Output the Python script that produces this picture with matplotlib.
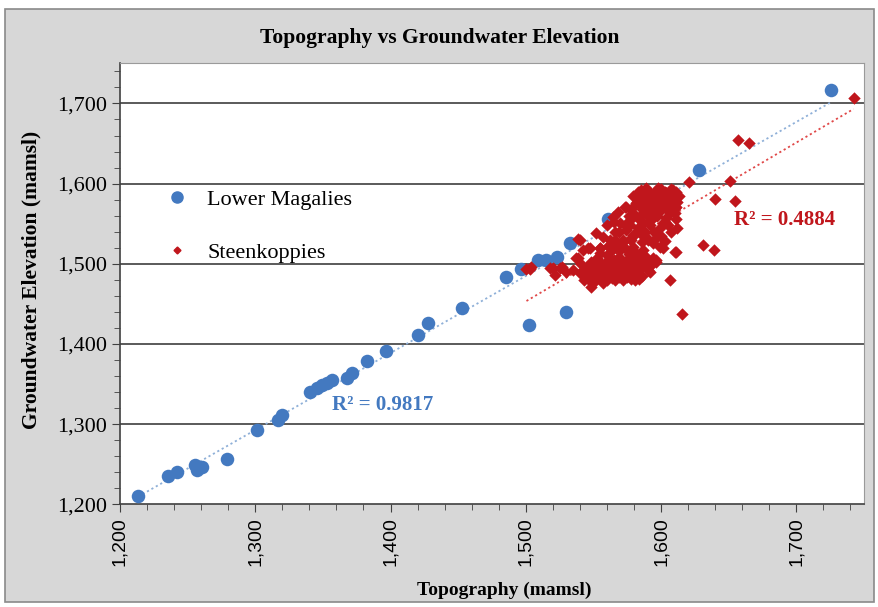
import matplotlib
matplotlib.use("Agg")
import matplotlib.pyplot as plt
import numpy as np
from matplotlib.lines import Line2D
from matplotlib.patches import Rectangle
from matplotlib.ticker import MultipleLocator, FuncFormatter

plt.rcParams.update({"font.family":"Liberation Serif"})

# Lower Magalies (topography, groundwater elevation)
lm_topo=[1213.5,1235.7,1241.9,1255.4,1256.7,1260.4,1278.8,1301.0,1317.0,1319.5,1340.4,1345.3,1349.0,
         1352.7,1356.4,1367.5,1371.2,1382.3,1396.3,1420.4,1427.8,1452.5,1485.7,1496.8,1502.4,1509.0,
         1515.3,1522.7,1529.5,1532.5,1560.8,1627.8,1725.9]
lm_gw=[1210.0,1235.0,1240.7,1249.0,1243.0,1247.0,1257.0,1292.7,1305.0,1311.0,1340.5,1344.7,1348.8,
       1351.7,1355.0,1357.0,1363.4,1378.8,1391.6,1411.0,1426.6,1444.5,1483.2,1493.2,1423.7,1504.8,
       1504.8,1508.0,1440.3,1525.6,1555.5,1617.0,1716.8]

# Steenkoppies
st_topo=[1742.3,1656.8,1664.7,1620.6,1651.2,1639.6,1654.4,1631.0,1638.9,1610.8,1615.5,1548.5,1580.5,
         1606.4,1565.7,1521.4,1526.4,1517.7,1538.4,1500.5,1538.4,1545.8,1554.7,1565.0,1573.0,1577.0,
         1573.0,1582.0,1589.4,1594.0,1604.0,1609.0,1587.0,1594.0,1602.7,1610.0,1574.4,1581.8,1596.6,
         1603.9,1608.8,1564.5,1569.4,1574.4,1586.7,1591.6,1581.8,1589.2,1601.4,1606.4,1539.9,1552.2,
         1557.1,1547.3,1542.3,1537.4,1554.7,1564.5,1571.9,1569.4,1579.3,1586.7,1594.0,1599.0,1581.8,
         1589.2,1596.6,1610.1,1519.9,1525.1,1502.9,1568.0,1578.0,1585.0,1591.0,1598.0,1600.0,1605.0,
         1612.0,1579.0,1584.0,1597.0,1590.0,1560.0,1569.0,1578.0,1562.0,1586.0,1595.0,1600.0,1607.0,
         1612.0,1611.0,1565.7,1579.3,1584.2,1596.6,1591.6,1601.4,1590.4,1504.0,
         1545,1548,1550,1552,1553,1555,1556,1558,1559,1560,1561,1562,1563,1564,1565,1566,1567,1568,
         1569,1570,1571,1572,1573,1574,1575,1576,1577,1578,1579,1580,1581,1582,1583,1585,1586,1587,
         1589,1590,1543,1547,1557,1562,1567,1571,1574,1566,1561,1577,1555,1586,1592,1584,1594,1541,
         1583,1587,1593,1598,1603,1606,1610,1588,1595,1601,1609,1586,1593,1599,1604,1580,1590,1597,
         1604,1611,1576,1584,1592,1599,1605,1583,1577,1595,1603,1588,
         1585,1589,1592,1596,1600,1603,1607,1611,1613,1595,1599,1605,1609,1612,1590,1584,1597,1602,
         1606,1610,1552,1556,1560,1563,1566,1569,1572,1575,1578,1581,1554,1558,1564,1570,1576,1549,
         1546,1573,1567,1561,
         1543,1548,1551,1545,1557,1553,1540,1535,1530,1542]
st_gw=[1706.5,1654.5,1651.1,1602.4,1603.7,1580.5,1578.7,1523.5,1517.2,1515.0,1437.4,1471.5,1479.8,
       1479.8,1479.8,1486.0,1496.4,1494.8,1507.3,1494.0,1531.0,1519.7,1519.4,1552.0,1548.4,1554.7,
       1571.0,1577.0,1588.4,1579.6,1588.4,1592.0,1563.4,1557.2,1552.2,1563.4,1571.3,1575.5,1583.7,
       1588.0,1585.9,1558.8,1550.5,1542.2,1550.5,1554.7,1538.1,1533.8,1550.5,1563.0,1529.7,1538.1,
       1533.8,1519.4,1517.2,1506.9,1519.4,1525.6,1529.7,1517.2,1521.4,1517.2,1525.6,1521.4,1513.1,
       1508.9,1504.8,1515.1,1494.4,1494.4,1493.2,1565.0,1568.0,1572.0,1590.0,1591.0,1575.0,1580.0,
       1585.0,1585.0,1582.0,1570.0,1568.0,1548.0,1540.0,1530.0,1530.0,1527.0,1540.0,1535.0,1540.0,
       1545.0,1571.0,1540.0,1536.0,1538.0,1502.6,1490.2,1519.4,1529.7,1496.4,
       1495,1502,1488,1497,1507,1491,1500,1485,1494,1503,1510,1489,1497,1482,1505,1492,1499,1487,
       1508,1495,1502,1484,1490,1498,1505,1512,1493,1487,1500,1496,1508,1490,1502,1495,1485,1499,
       1504,1492,1486,1481,1478,1515,1520,1526,1518,1530,1522,1531,1513,1510,1497,1481,1507,1500,
       1590,1585,1586,1594,1583,1590,1588,1576,1574,1578,1579,1568,1565,1566,1570,1562,1560,1560,
       1557,1556,1560,1556,1548,1545,1548,1545,1548,1530,1528,1540,
       1592,1594,1588,1591,1593,1590,1593,1590,1584,1582,1585,1585,1582,1577,1580,1580,1577,1574,
       1575,1570,1484,1482,1480,1486,1481,1484,1480,1483,1481,1485,1490,1488,1492,1489,1490,1492,
       1487,1487,1486,1483,
       1480,1477,1479,1483,1476,1482,1489,1492,1490,1491]

r2_lm="R² = 0.9817"; r2_st="R² = 0.4884"
BLUE="#4379c0"; RED="#c0161c"

fig=plt.figure(figsize=(8.79,6.07),dpi=100,facecolor="white")
fig.patches.append(Rectangle((0.006,0.008),0.988,0.977,transform=fig.transFigure,
                             facecolor="#d7d7d7",edgecolor="#8a8a8a",lw=1.2,zorder=-5))
ax=fig.add_axes([0.1365,0.1692,0.8464,0.7264],zorder=2); ax.set_facecolor("white")
ax.set_xlim(1200,1750); ax.set_ylim(1200,1750)
ax.xaxis.set_major_locator(MultipleLocator(100)); ax.xaxis.set_minor_locator(MultipleLocator(20))
ax.yaxis.set_major_locator(MultipleLocator(100)); ax.yaxis.set_minor_locator(MultipleLocator(20))
fmt=FuncFormatter(lambda v,p:f"{v:,.0f}")
ax.xaxis.set_major_formatter(fmt); ax.yaxis.set_major_formatter(fmt)
for t in [1300,1400,1500,1600,1700]: ax.axhline(t,color="#5a5a5a",lw=1.4,zorder=1)
ax.tick_params(which="major",length=6,color="#404040")
ax.tick_params(which="minor",length=4,color="#404040")
for lb in ax.get_xticklabels():
    lb.set_rotation(90); lb.set_family("Liberation Sans"); lb.set_fontsize(14)
for lb in ax.get_yticklabels(): lb.set_fontsize(16)
for s in ["top","right"]: ax.spines[s].set_color("#9a9a9a")
for s in ["left","bottom"]: ax.spines[s].set_color("#404040"); ax.spines[s].set_linewidth(1.2)

# trend lines
for xs,ys,c in [(lm_topo,lm_gw,"#8fb0d8"),(st_topo,st_gw,"#e04848")]:
    k,b=np.polyfit(xs,ys,1); xx=np.array([min(xs),max(xs)])
    ax.plot(xx,k*xx+b,ls=(0,(1.2,1.6)),color=c,lw=1.3,zorder=2)

ax.scatter(lm_topo,lm_gw,s=95,color=BLUE,zorder=3,linewidths=0)
ax.scatter(st_topo,st_gw,s=40,marker="D",color=RED,zorder=4,linewidths=0)

ax.text(1357,1324,r2_lm,color=BLUE,fontsize=15,fontweight="bold",va="center")
ax.text(1654,1555,r2_st,color=RED,fontsize=15,fontweight="bold",va="center")

h=[Line2D([],[],marker="o",ls="",color=BLUE,markersize=8),
   Line2D([],[],marker="D",ls="",color=RED,markersize=3.5)]
ax.legend(h,["Lower Magalies","Steenkoppies"],loc="upper left",bbox_to_anchor=(0.02,0.76),
          frameon=False,fontsize=16,labelspacing=1.45,handletextpad=0.35)

fig.text(0.5,0.937,"Topography vs Groundwater Elevation",ha="center",va="center",fontsize=15.5,fontweight="bold")
fig.text(0.574,0.028,"Topography (mamsl)",ha="center",va="center",fontsize=14,fontweight="bold")
fig.text(0.036,0.539,"Groundwater Elevation (mamsl)",ha="center",va="center",rotation=90,fontsize=15.5,fontweight="bold")
fig.savefig("out.png",dpi=100)
